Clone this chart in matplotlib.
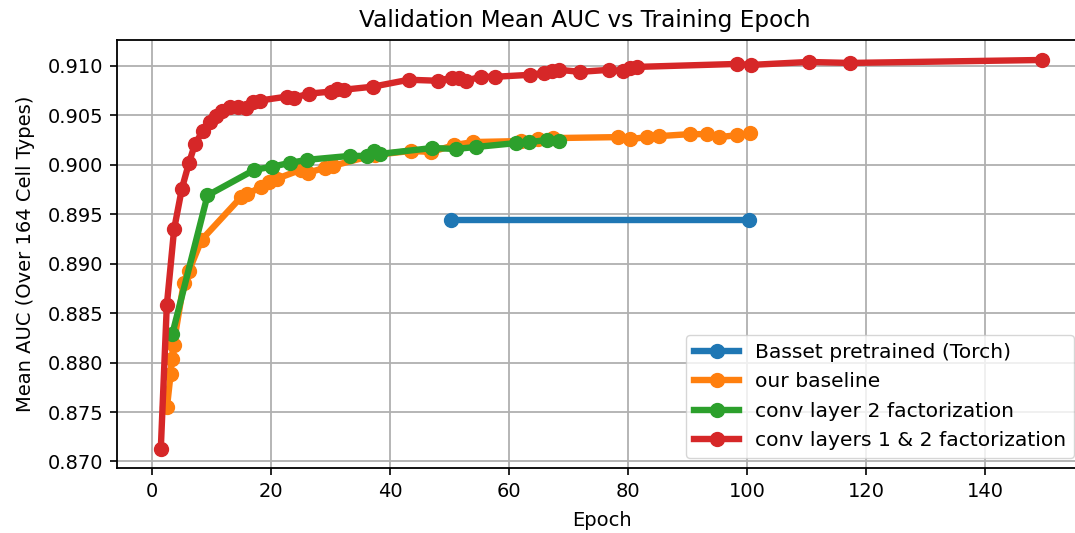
import matplotlib
matplotlib.use("Agg")
import matplotlib.pyplot as plt

# Basset pretrained (Torch)
basset_epoch = [50.2, 100.2]
basset_auc = [0.8944, 0.8944]

# our baseline
base_epoch = [2.5, 3.1, 3.3, 3.6, 5.3, 6.2, 8.3, 14.9, 16.0, 18.3, 19.7, 21.0,
              25.0, 26.2, 29.0, 30.4, 37.4, 43.5, 46.9, 50.8, 53.9, 62.0, 64.9,
              67.4, 78.3, 80.3, 83.2, 85.2, 90.3, 93.3, 95.3, 98.3, 100.5]
base_auc = [0.8755, 0.8788, 0.8804, 0.8818, 0.8880, 0.8893, 0.8924, 0.8967,
            0.8970, 0.8978, 0.8983, 0.8986, 0.8995, 0.8992, 0.8997, 0.8999,
            0.9010, 0.9014, 0.9013, 0.9020, 0.9023, 0.9024, 0.9026, 0.9027,
            0.9028, 0.9026, 0.9028, 0.9029, 0.9031, 0.9031, 0.9028, 0.9030,
            0.9032]

# conv layer 2 factorization
conv2_epoch = [3.4, 9.3, 17.2, 20.1, 23.2, 26.0, 33.2, 36.1, 37.2, 38.3,
               47.1, 51.0, 54.4, 61.2, 63.4, 66.3, 68.4]
conv2_auc = [0.8829, 0.8969, 0.8995, 0.8998, 0.9002, 0.9005, 0.9009, 0.9009,
             0.9014, 0.9011, 0.9017, 0.9016, 0.9018, 0.9022, 0.9023, 0.9025,
             0.9024]

# conv layers 1 & 2 factorization
conv12_epoch = [1.46, 2.47, 3.7, 5.0, 6.2, 7.2, 8.5, 9.7, 10.7, 11.8, 13.1,
                14.5, 15.8, 16.9, 18.1, 22.7, 23.9, 26.4, 30.0, 31.1, 32.3,
                37.1, 43.1, 48.0, 50.3, 51.6, 52.7, 55.2, 57.6, 63.5, 65.8,
                67.1, 68.4, 71.9, 76.7, 79.1, 80.3, 81.5, 98.3, 100.6, 110.3,
                117.2, 149.5]
conv12_auc = [0.8713, 0.8858, 0.8935, 0.8976, 0.9002, 0.9021, 0.9034, 0.9043,
              0.9049, 0.9054, 0.9058, 0.9058, 0.9057, 0.9063, 0.9065, 0.9069,
              0.9068, 0.9072, 0.9074, 0.9077, 0.9076, 0.9079, 0.9086, 0.9085,
              0.9088, 0.9088, 0.9085, 0.9089, 0.9089, 0.9091, 0.9093, 0.9095,
              0.9096, 0.9094, 0.9096, 0.9095, 0.9098, 0.9099, 0.9102, 0.9101,
              0.9104, 0.9103, 0.9106]

fig = plt.figure(figsize=(10.75, 5.33), dpi=100)
ax = fig.add_axes([117 / 1075, 1 - 468 / 533, (1086 - 117) / 1075, (468 - 40) / 533])

style = dict(linewidth=4.6, marker="o", markersize=10)
ax.plot(basset_epoch, basset_auc, color="#1f77b4", label="Basset pretrained (Torch)", **style)
ax.plot(base_epoch, base_auc, color="#ff7f0e", label="our baseline", **style)
ax.plot(conv2_epoch, conv2_auc, color="#2ca02c", label="conv layer 2 factorization", **style)
ax.plot(conv12_epoch, conv12_auc, color="#d62728", label="conv layers 1 & 2 factorization", **style)

ax.set_xlim(-5.9, 156.9)
ax.set_ylim(0.86934, 0.91262)
ax.set_yticks([0.870, 0.875, 0.880, 0.885, 0.890, 0.895, 0.900, 0.905, 0.910])
ax.set_xticks([0, 20, 40, 60, 80, 100, 120, 140])
ax.tick_params(labelsize=14, length=5, width=1.2, pad=5)
for s in ax.spines.values():
    s.set_linewidth(1.3)
ax.grid(True, color="#b0b0b0", linewidth=1.3)

ax.set_xlabel("Epoch", fontsize=14, labelpad=7)
ax.set_ylabel("Mean AUC (Over 164 Cell Types)", fontsize=14, labelpad=9)
ax.set_title("Validation Mean AUC vs Training Epoch", fontsize=16.7, x=0.483, pad=9)

ax.legend(loc="lower right", fontsize=14.6, handlelength=2.2,
          bbox_to_anchor=(0.9985, 0.0), borderaxespad=0.5)

fig.savefig("out.png", dpi=100)
